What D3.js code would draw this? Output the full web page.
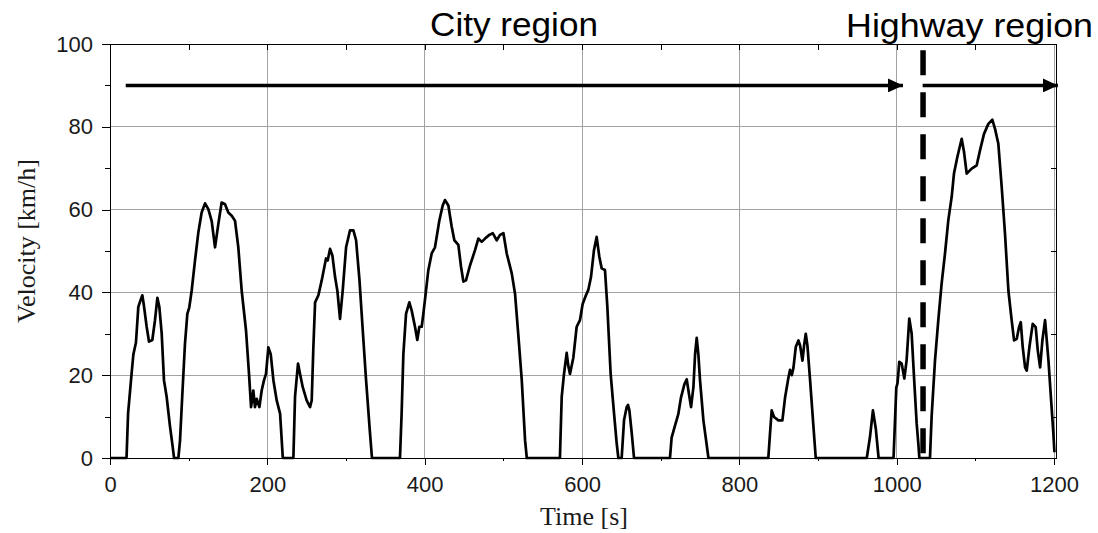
<!DOCTYPE html>
<html>
<head>
<meta charset="utf-8">
<script src="https://cdn.jsdelivr.net/npm/d3@7"></script>
<style>
  html, body { margin: 0; padding: 0; background: #fff; }
  svg { display: block; }
</style>
</head>
<body>
<svg id="chart" width="1098" height="533"></svg>
<script>
// Drive cycle: time (s) and vehicle velocity (km/h)
const timeS = [
  0, 21, 23, 27.5, 29.7, 33, 36, 38.1, 41.1, 43.2, 46.6, 49.6, 53.8, 57.2, 60.2, 62.7, 65.7, 68.6, 72, 76.3, 79.7, 81.4, 86.9,
  89, 92.4, 95.3, 98.3, 100.8, 103.8, 108, 112.3, 116.5, 120.8, 125, 129.2, 133.5, 137.7, 141.9, 146.2, 150.4, 154.7, 158.9,
  163.1, 167.4, 172.9, 176.7, 179.3, 182.2, 184.3, 186.5, 189.9, 192.8, 195.8, 198.3, 201.3, 204.3, 207.7, 211.9, 216.2,
  219.6, 220.4, 233.1,
  235.2, 239, 241.6, 245, 250, 254.3, 256.4, 258.5, 260.7, 264.9, 269.1, 274.6, 276.7, 279.7, 282.7, 286.1, 289, 292.4,
  295.8, 300.1, 305.1, 309.4, 312.8, 317.1, 321.3, 325.5, 330.5, 333, 368.6,
  370.7, 372.9, 376.3, 380.5, 383.5, 387.7, 390.6, 393.2, 396.2, 398.3, 401.2, 404.6, 408.9, 413.1, 418.6, 422.9, 425.8,
  430.1, 434.3, 437.7, 442.8, 446.2, 449.2, 452.5, 457.6, 464, 468.2, 472.5, 476.7, 482.2, 486.5, 491.6, 495.8, 500.1,
  504.3, 510.7, 514.9, 519.2, 523.4, 527.6, 529.8, 571.9,
  574.2, 577.1, 580.5, 582.6, 584.7, 589, 593.2, 597.4, 600.8, 605, 608, 611.4, 615.2, 618.6, 622, 625, 629.2, 632.2,
  636.4, 640.7, 644.1, 646.2, 650.4,
  653.4, 656.8, 658.5, 660.2, 663.2, 666.1, 711.8,
  713.9, 718.2, 722.4, 725.8, 730.1, 733.1, 736, 738.6, 741.6, 743.7, 745.8, 747.9, 750, 754.3, 757.7, 760.7, 836.8,
  839, 841.1, 844.1, 849.6, 854.7, 858.1, 862.3, 864.4, 866.6, 868.7, 871.7, 875.1, 877.2, 880.2, 882.3, 884.4, 886.5,
  889.9, 894.2, 897.1, 962,
  966, 969.8, 973.5, 977, 996,
  999.5, 1001, 1003.3, 1006.3, 1009.7, 1012.6, 1016, 1019, 1022, 1025.4, 1027.5, 1028.8, 1042.3,
  1044.4, 1048.7, 1052.9, 1057.1, 1061.4, 1065.6, 1069.9, 1072.8, 1077.1, 1082.6, 1085.6, 1089, 1095.3, 1101.7, 1105.9,
  1111, 1116.5, 1121.6, 1125, 1129.2, 1133.5, 1137.7, 1142, 1146.2, 1149.2, 1152.6, 1155.5, 1157.7, 1160.2, 1163.2,
  1165.3, 1168.7, 1172.9, 1176.7, 1179.3, 1182.3, 1185.2, 1188.6, 1192.9, 1196.3, 1199.2, 1200.5
];
const velocityKmh = [
  0, 0, 10.8, 20.5, 25, 27.9, 36.5, 37.7, 39.3, 36.7, 31.7, 28.1, 28.5, 33.3, 38.7, 36.5, 30.1, 18.8, 14.8, 7.6, 2.7, 0, 0,
  4.2, 17.1, 27.6, 34.8, 36.4, 40.4, 47.6, 54.5, 59.3, 61.5, 60.1, 57.3, 50.9, 56.5, 61.7, 61.3, 59.3, 58.5, 57.3,
  50.9, 40.4, 30.8, 20.3, 12.3, 16.3, 12.3, 14.3, 12.3, 16.3, 18.8, 20.3, 26.7, 25.1, 18.8, 13.9, 10.7,
  0.2, 0, 0,
  14.8, 22.8, 20.3, 17.1, 13.9, 12.3, 13.9, 26.7, 37.6, 39.3, 42.9, 48.2, 47.7, 50.5, 48.9, 43.7, 40.4, 33.6,
  40.4, 50.9, 55, 55, 52.6, 43, 30.8, 18.8, 6, 0, 0,
  10.8, 25, 34.8, 37.6, 35.6, 31.7, 28.5, 31.7, 31.7, 34.8, 39.6, 45.3, 49.4, 50.9, 57.3, 61, 62.3,
  61, 55.9, 52.6, 51.5, 46.2, 42.6, 42.9, 46.5, 50.2, 53, 52.2, 53, 53.9, 54.3, 52.6, 53.9, 54.3,
  49.4, 44.6, 39.6, 29.3, 18.8, 4.3, 0, 0,
  14.8, 20.3, 25.4, 22.2, 20.3, 24.3, 31.7, 33.3, 37.2, 39.3, 40.6, 43.7, 50.2, 53.4, 48.6, 45.8, 45.4, 36.5,
  20.3, 10.8, 3.5, 0, 0,
  9.1, 12.3, 12.8, 11.5, 6, 0, 0,
  4.9, 7.8, 10.6, 14.6, 17.8, 19, 15.4, 12.3, 17.1, 25, 29, 25, 18.8, 9.1, 4.3, 0, 0,
  6, 11.5, 9.9, 9.1, 9.1, 14.6, 19.3, 21.3, 20, 21.7, 26.8, 28.4, 27.2, 23.5, 27.2, 30, 27.2,
  18.8, 7.5, 0, 0,
  5, 11.5, 7, 0, 0,
  17, 18, 23.2, 22.8, 19.2, 23.6, 33.7, 30.1, 19.6, 8.3, 3.5, 0, 0,
  10, 23.6, 33.3, 42.1, 49.4, 57.4, 63.1, 68.7, 72.7, 77.1, 73.9, 68.7, 69.9, 70.7, 74.3,
  78.3, 80.7, 81.7, 79.5, 75.9, 65.4, 54.1, 40.4, 33.2, 28.4, 28.8, 31.6, 32.8, 26.8, 21.9,
  21.1, 26.8, 32.4, 31.6, 26, 21.9, 28.4, 33.3, 23.6, 13.9, 5.8, 1.4
];

// Axis ticks and labels
const xMajorTicks = [0, 200, 400, 600, 800, 1000, 1200];
const xMinorTicks = [100, 300, 500, 700, 900, 1100];
const yMajorTicks = [0, 20, 40, 60, 80, 100];
const yMinorTicks = [10, 30, 50, 70, 90];
const xTitle = "Time [s]";
const yTitle = "Velocity [km/h]";

// Region annotations: boundary time, arrow spans (s) and arrow height (km/h)
const regionLabels = ["City region", "Highway region"];
const regionBoundary = 1033.5;
const cityArrow = [20, 1008];
const highwayArrow = [1033, 1205];
const arrowLevel = 90;

const svg = d3.select("#chart");
const W = 1098, H = 533;
svg.append("rect").attr("width", W).attr("height", H).attr("fill", "#fff");

const x = d3.scaleLinear().domain([0, 1202.5]).range([110, 1056]);
const y = d3.scaleLinear().domain([0, 100]).range([458, 44]);

const gridColor = "#a3a3a3";
const sansFont = "'Liberation Sans', Arial, sans-serif";
const serifFont = "'Liberation Serif', 'Times New Roman', serif";

// Grid lines
svg.append("g")
  .selectAll("line.vg")
  .data(xMajorTicks.filter(d => d > 0))
  .join("line")
  .attr("x1", d => x(d)).attr("x2", d => x(d))
  .attr("y1", y(0)).attr("y2", y(100))
  .attr("stroke", gridColor).attr("stroke-width", 1)
  .attr("shape-rendering", "crispEdges");

svg.append("g")
  .selectAll("line.hg")
  .data(yMajorTicks.filter(d => d > 0 && d < 100))
  .join("line")
  .attr("x1", x.range()[0]).attr("x2", x.range()[1])
  .attr("y1", d => y(d)).attr("y2", d => y(d))
  .attr("stroke", gridColor).attr("stroke-width", 1)
  .attr("shape-rendering", "crispEdges");

// Frame (top and right edges)
svg.append("line")
  .attr("x1", x.range()[0]).attr("x2", x.range()[1])
  .attr("y1", y(100)).attr("y2", y(100))
  .attr("stroke", "#000").attr("shape-rendering", "crispEdges");
svg.append("line")
  .attr("x1", x.range()[1]).attr("x2", x.range()[1])
  .attr("y1", y(0)).attr("y2", y(100))
  .attr("stroke", "#000").attr("shape-rendering", "crispEdges");

function styleAxis(g, showLabels) {
  g.attr("shape-rendering", "crispEdges");
  g.selectAll("path.domain").attr("stroke", "#000");
  g.selectAll(".tick line").attr("stroke", "#000");
  g.selectAll(".tick text")
    .attr("fill", "#1a1a1a")
    .style("font-family", sansFont)
    .style("font-size", "22px");
  if (!showLabels) g.selectAll(".tick text").remove();
}

// Bottom axis
svg.append("g")
  .attr("transform", `translate(0,${y(0)})`)
  .call(d3.axisBottom(x).tickValues(xMajorTicks).tickSize(7).tickSizeOuter(0).tickPadding(11).tickFormat(d3.format("d")))
  .call(g => styleAxis(g, true));
svg.append("g")
  .attr("transform", `translate(0,${y(0)})`)
  .call(d3.axisBottom(x).tickValues(xMinorTicks).tickSize(3).tickSizeOuter(0))
  .call(g => { styleAxis(g, false); g.select("path.domain").remove(); });

// Top ticks pointing inward
svg.append("g")
  .attr("transform", `translate(0,${y(100)})`)
  .call(d3.axisTop(x).tickValues(xMinorTicks.concat(xMajorTicks.slice(1, -1))).tickSize(-6).tickSizeOuter(0))
  .call(g => { styleAxis(g, false); g.select("path.domain").remove(); });

// Left axis
svg.append("g")
  .attr("transform", `translate(${x(0)},0)`)
  .call(d3.axisLeft(y).tickValues(yMajorTicks).tickSize(8).tickSizeOuter(0).tickPadding(9))
  .call(g => styleAxis(g, true));
svg.append("g")
  .attr("transform", `translate(${x(0)},0)`)
  .call(d3.axisLeft(y).tickValues(yMinorTicks).tickSize(5).tickSizeOuter(0))
  .call(g => { styleAxis(g, false); g.select("path.domain").remove(); });

// Right ticks pointing inward
svg.append("g")
  .attr("transform", `translate(${x.range()[1]},0)`)
  .call(d3.axisRight(y).tickValues(yMinorTicks).tickSize(-5).tickSizeOuter(0))
  .call(g => { styleAxis(g, false); g.select("path.domain").remove(); });

// Velocity trace
const points = timeS.map((t, i) => [t, velocityKmh[i]]);
const line = d3.line().x(d => x(d[0])).y(d => y(d[1]));
svg.append("path")
  .datum(points)
  .attr("d", line)
  .attr("fill", "none")
  .attr("stroke", "#000")
  .attr("stroke-width", 2.7)
  .attr("stroke-linejoin", "round");

// Region boundary
svg.append("line")
  .attr("x1", x(regionBoundary)).attr("x2", x(regionBoundary))
  .attr("y1", y(98.5)).attr("y2", y(0))
  .attr("stroke", "#000")
  .attr("stroke-width", 5.5)
  .attr("stroke-dasharray", "25 17");

// Region arrows
svg.append("defs").append("marker")
  .attr("id", "arrowhead")
  .attr("markerUnits", "userSpaceOnUse")
  .attr("markerWidth", 16).attr("markerHeight", 14)
  .attr("refX", 15).attr("refY", 7)
  .attr("orient", "auto")
  .append("path")
  .attr("d", "M0,0 L15,7 L0,14 Z")
  .attr("fill", "#000");

[cityArrow, highwayArrow].forEach(span => {
  svg.append("line")
    .attr("x1", x(span[0])).attr("x2", x(span[1]))
    .attr("y1", y(arrowLevel)).attr("y2", y(arrowLevel))
    .attr("stroke", "#000")
    .attr("stroke-width", 3.5)
    .attr("marker-end", "url(#arrowhead)");
});

// Region labels
svg.append("text")
  .attr("x", 430).attr("y", 36)
  .attr("text-anchor", "start")
  .attr("textLength", 168)
  .attr("lengthAdjust", "spacingAndGlyphs")
  .style("font-family", sansFont)
  .style("font-size", "33px")
  .attr("fill", "#000")
  .text(regionLabels[0]);
svg.append("text")
  .attr("x", 846).attr("y", 36.5)
  .attr("text-anchor", "start")
  .attr("textLength", 247)
  .attr("lengthAdjust", "spacingAndGlyphs")
  .style("font-family", sansFont)
  .style("font-size", "33px")
  .attr("fill", "#000")
  .text(regionLabels[1]);

// Axis titles
svg.append("text")
  .attr("x", 584).attr("y", 525)
  .attr("text-anchor", "middle")
  .style("font-family", serifFont)
  .style("font-size", "26px")
  .attr("fill", "#1a1a1a")
  .text(xTitle);
svg.append("text")
  .attr("transform", "translate(35,241) rotate(-90)")
  .attr("text-anchor", "middle")
  .style("font-family", serifFont)
  .style("font-size", "26px")
  .attr("fill", "#1a1a1a")
  .text(yTitle);
</script>
</body>
</html>
